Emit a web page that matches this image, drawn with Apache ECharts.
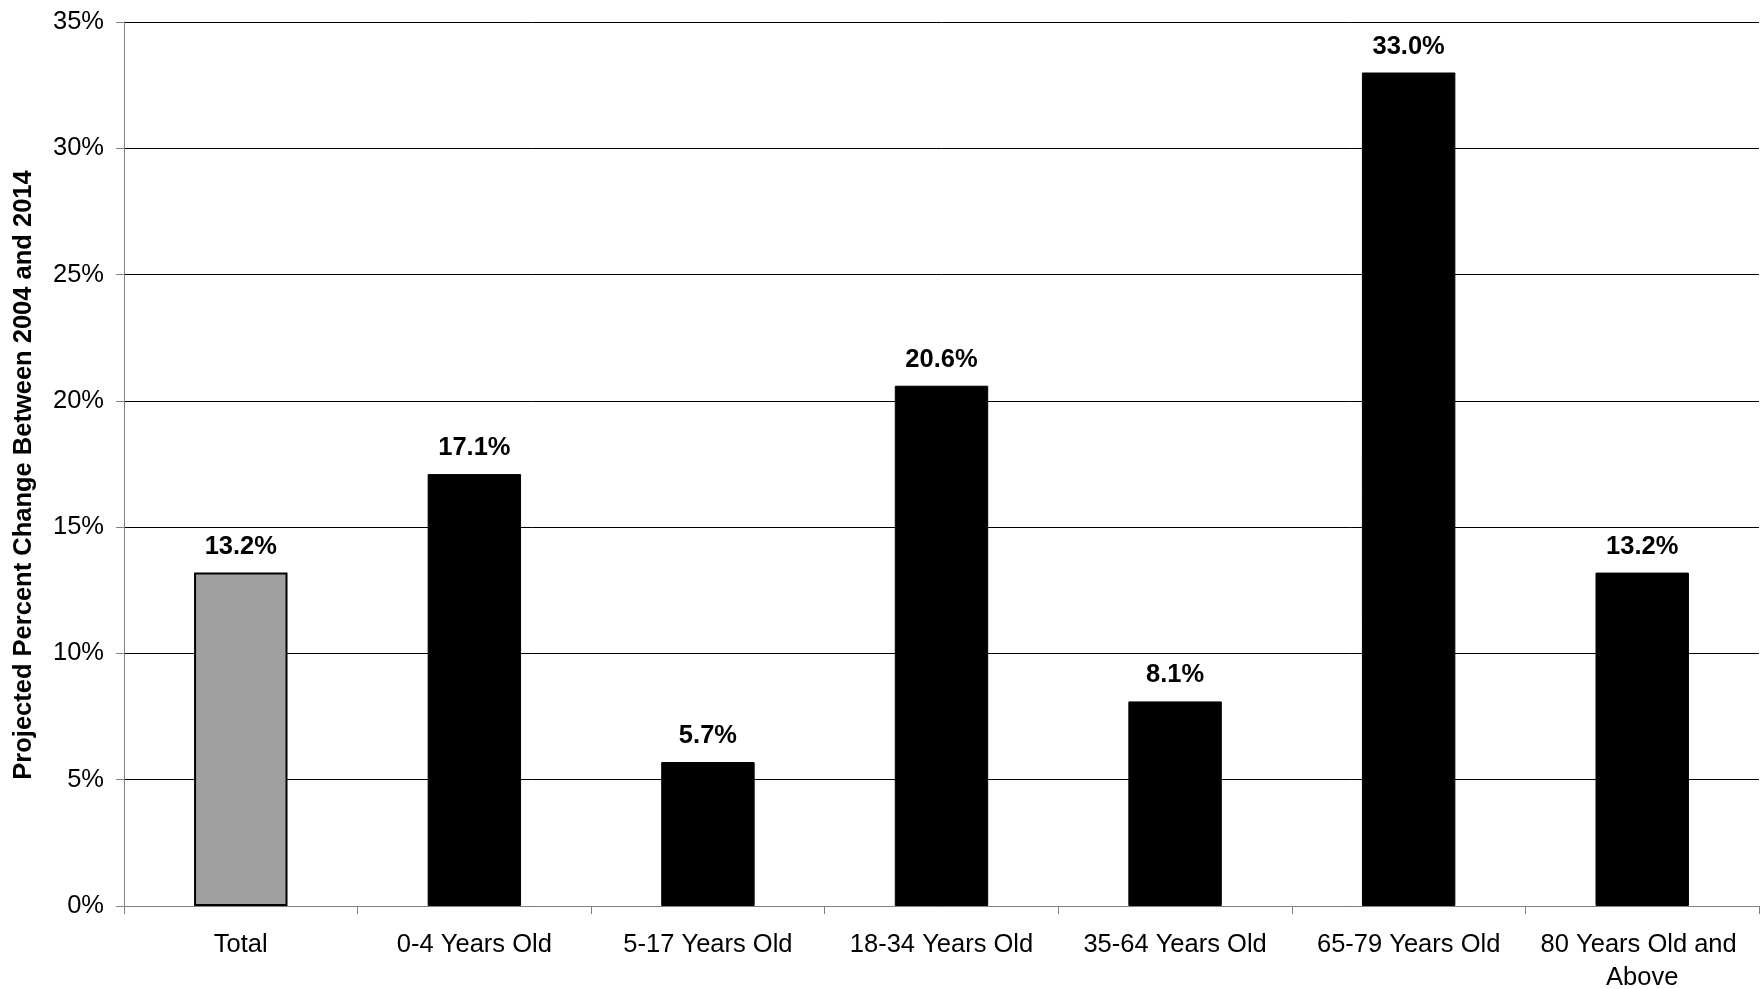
<!DOCTYPE html>
<html>
<head>
<meta charset="utf-8">
<title>Projected Percent Change Between 2004 and 2014</title>
<script src="https://cdn.jsdelivr.net/npm/echarts@6/dist/echarts.min.js"></script>
<style>
  html, body { margin: 0; padding: 0; background: #fff; }
  #chart { width: 1762px; height: 989px; }
</style>
</head>
<body>
<div id="chart"></div>
<script>
// Age groups and their projected percent change, 2004 to 2014
const categories = ['Total', '0-4 Years Old', '5-17 Years Old', '18-34 Years Old',
  '35-64 Years Old', '65-79 Years Old', '80 Years Old and Above'];
const percentChange = [13.2, 17.1, 5.7, 20.6, 8.1, 33.0, 13.2];
const yTicks = [0, 5, 10, 15, 20, 25, 30, 35];

const FONT = '"Liberation Sans", Arial, Helvetica, sans-serif';

const chart = echarts.init(document.getElementById('chart'), null, { renderer: 'canvas' });

const barData = percentChange.map((v, i) => ({
  value: v,
  itemStyle: i === 0
    ? { color: '#a0a0a0', borderColor: '#000', borderWidth: 2 }
    : { color: '#000', borderColor: '#000', borderWidth: 1 }
}));

chart.setOption({
  animation: false,
  backgroundColor: '#fff',
  textStyle: { fontFamily: FONT },
  grid: { left: 124, right: 3, top: 22, bottom: 83, containLabel: false, outerBoundsMode: 'none' },
  xAxis: {
    type: 'category',
    data: categories,
    boundaryGap: true,
    axisLine: { show: true, lineStyle: { color: '#808080', width: 1 } },
    axisTick: { show: true, length: 8, inside: false, alignWithLabel: false,
      lineStyle: { color: '#808080', width: 1 } },
    axisLabel: {
      interval: 0, margin: 22, color: '#000', fontFamily: FONT, fontSize: 25.5,
      lineHeight: 33, width: 228, overflow: 'break', align: 'center'
    },
    splitLine: { show: false }
  },
  yAxis: {
    type: 'value',
    min: yTicks[0],
    max: yTicks[yTicks.length - 1],
    interval: yTicks[1] - yTicks[0],
    name: 'Projected Percent Change Between 2004 and 2014',
    nameLocation: 'middle',
    nameGap: 87,
    nameTextStyle: { color: '#000', fontFamily: FONT, fontSize: 25.5, fontWeight: 'bold',
      padding: [0, 22, 0, 0] },
    axisLine: { show: true, lineStyle: { color: '#808080', width: 1 } },
    axisTick: { show: true, length: 8, inside: false, lineStyle: { color: '#808080', width: 1 } },
    axisLabel: {
      margin: 20, color: '#000', fontFamily: FONT, fontSize: 25.5,
      formatter: '{value}%'
    },
    splitLine: { show: true, lineStyle: { color: '#000', width: 1 } }
  },
  series: [{
    type: 'bar',
    data: barData,
    barCategoryGap: '60%',
    label: {
      show: true,
      position: 'top',
      distance: 13,
      color: '#000',
      fontFamily: FONT,
      fontSize: 25.5,
      fontWeight: 'bold',
      formatter: p => p.value.toFixed(1) + '%'
    }
  }]
});
</script>
</body>
</html>
